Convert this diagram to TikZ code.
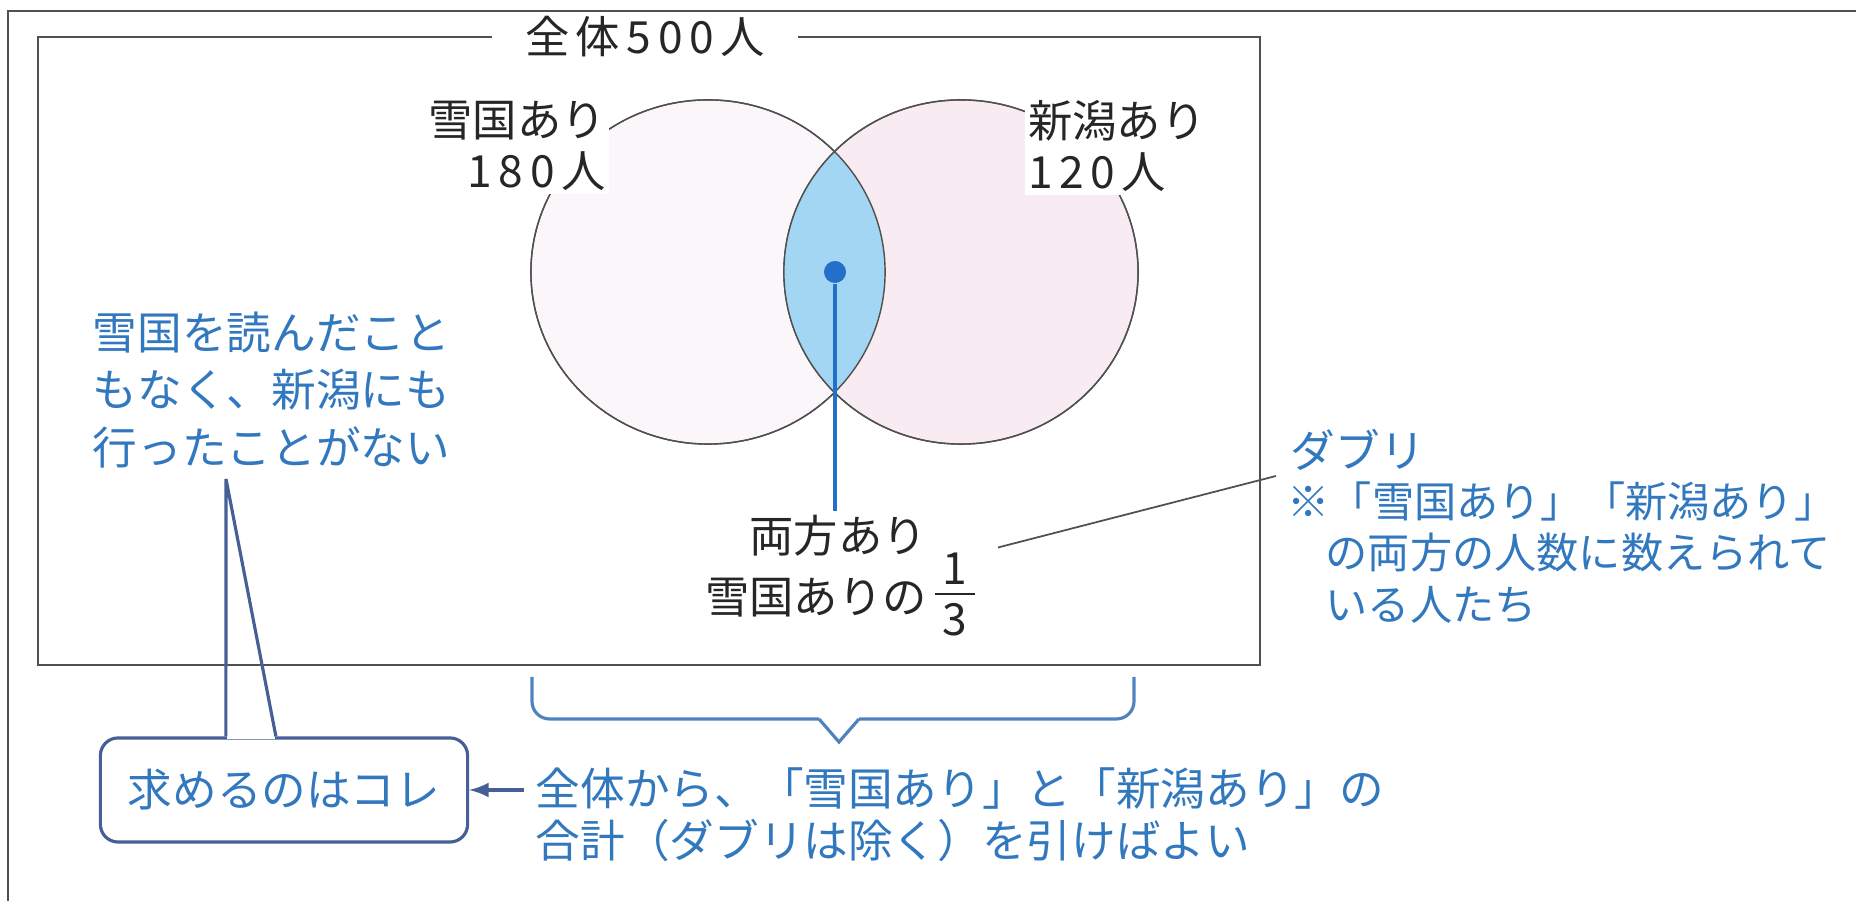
\documentclass[tikz,border=0pt]{standalone}
\usepackage{fontspec}
\setmainfont{Noto Sans CJK JP}
\usepackage{tikz}
\definecolor{noteblue}{RGB}{50,120,190}
\definecolor{lensblue}{RGB}{163,214,243}
\definecolor{dotblue}{RGB}{36,112,200}
\definecolor{snowpink}{RGB}{250,246,250}
\definecolor{niigatapink}{RGB}{248,235,241}
\definecolor{linegray}{RGB}{80,80,80}
\definecolor{boxblue}{RGB}{70,96,150}
\definecolor{bracketblue}{RGB}{80,130,190}

\begin{document}
\begin{tikzpicture}[x=0.01cm,y=-0.01cm,
		blk/.style={text=black!85,font=\fontsize{12.6}{14.5}\selectfont,inner sep=1pt},
		blu/.style={text=noteblue,font=\fontsize{12.7}{16.4}\selectfont,inner sep=0pt},
		wide/.style={font=\fontsize{12.6}{14.5}\selectfont\addfontfeature{LetterSpace=15}},
		set/.style={x radius=1.77cm,y radius=1.72cm},
		brk/.style={bracketblue,line width=0.9pt}]
	\useasboundingbox (0,0) rectangle (1856,901);
	\draw[linegray,line width=0.8pt] (8,901) -- (8,11) -- (1856,11);
	% whole set
	\draw[linegray,line width=0.7pt] (38,37) rectangle (1260,665);
	\node[blk,wide,fill=white,inner xsep=3.3mm] (whole) at (645,37) {全体500人};
	% the two sets and their overlap
	\draw[linegray,fill=snowpink] (708,272) ellipse [set];
	\draw[linegray,fill=niigatapink] (961,272) ellipse [set];
	\begin{scope}
		\clip (708,272) ellipse [set];
		\fill[lensblue] (961,272) ellipse [set];
	\end{scope}
	\draw[linegray] (708,272) ellipse [set] (961,272) ellipse [set];
	\node[blk,fill=white,align=right,anchor=east] (snow) at (610,146) {雪国あり\\\addfontfeature{LetterSpace=15}180人};
	\node[blk,fill=white,align=left,anchor=west] (niigata) at (1024,146) {新潟あり\\\addfontfeature{LetterSpace=15}120人};
	\node[circle,fill=dotblue,inner sep=0pt,minimum size=0.22cm] (dot) at (835,272) {};
	\node[blk,anchor=east] (both) at (931,536) {両方あり};
	\node[blk,anchor=east] (third) at (931,598) {雪国ありの};
	\node[blk,inner sep=0pt] (one) at (955,569) {1};
	\node[blk,inner sep=0pt] (three) at (955,620) {3};
	\draw[black!85,line width=0.6pt] (935,594) -- (975,594);
	\draw[dotblue,line width=1pt] (dot) -- (dot |- both.north);
	% note on the overlap
	\node[blu,anchor=west] (dabu) at (1290,450) {ダブリ};
	\node[blu,anchor=north west,align=left,font=\fontsize{12}{14.6}\selectfont] (dabunote) at (1287,481) {※「雪国あり」「新潟あり」\\\hspace*{0.9em}の両方の人数に数えられて\\\hspace*{0.9em}いる人たち};
	\coordinate (dabutip) at (1276,476);
	\draw[linegray,line width=0.5pt] ([shift={(0.3cm,0.05cm)}]one.north east) -- (dabutip);
	% outside both sets
	\node[blu,anchor=west,align=left] (never) at (92,390) {雪国を読んだこと\\もなく、新潟にも\\行ったことがない};
	\node[blu,draw=boxblue,line width=0.9pt,rounded corners=5pt,minimum width=3.67cm,minimum height=1.04cm] (goal) at (284,790) {求めるのはコレ};
	\coordinate (tailtip) at (226,479);
	\draw[white,line width=1.6pt] ([xshift=1.28cm]goal.north west) -- ([xshift=1.76cm]goal.north west);
	\draw[boxblue,line width=0.9pt] ([xshift=1.27cm]goal.north west) -- (tailtip) -- ([xshift=1.77cm]goal.north west);
	% how to count it
	\draw[brk,rounded corners=5pt] (532,677) |- (819,719);
	\draw[brk] (819,719) -- (839,742) -- (859,719);
	\draw[brk,rounded corners=5pt] (859,719) -| (1134,677);
	\node[blu,anchor=west,align=left,font=\fontsize{12.7}{14.8}\selectfont] (rest) at (535,815) {全体から、「雪国あり」と「新潟あり」の\\合計（ダブリは除く）を引けばよい};
	\draw[-latex,boxblue,line width=0.9pt,shorten <=3pt] (goal.east -| rest.west) -- (goal.east);
\end{tikzpicture}
\end{document}
